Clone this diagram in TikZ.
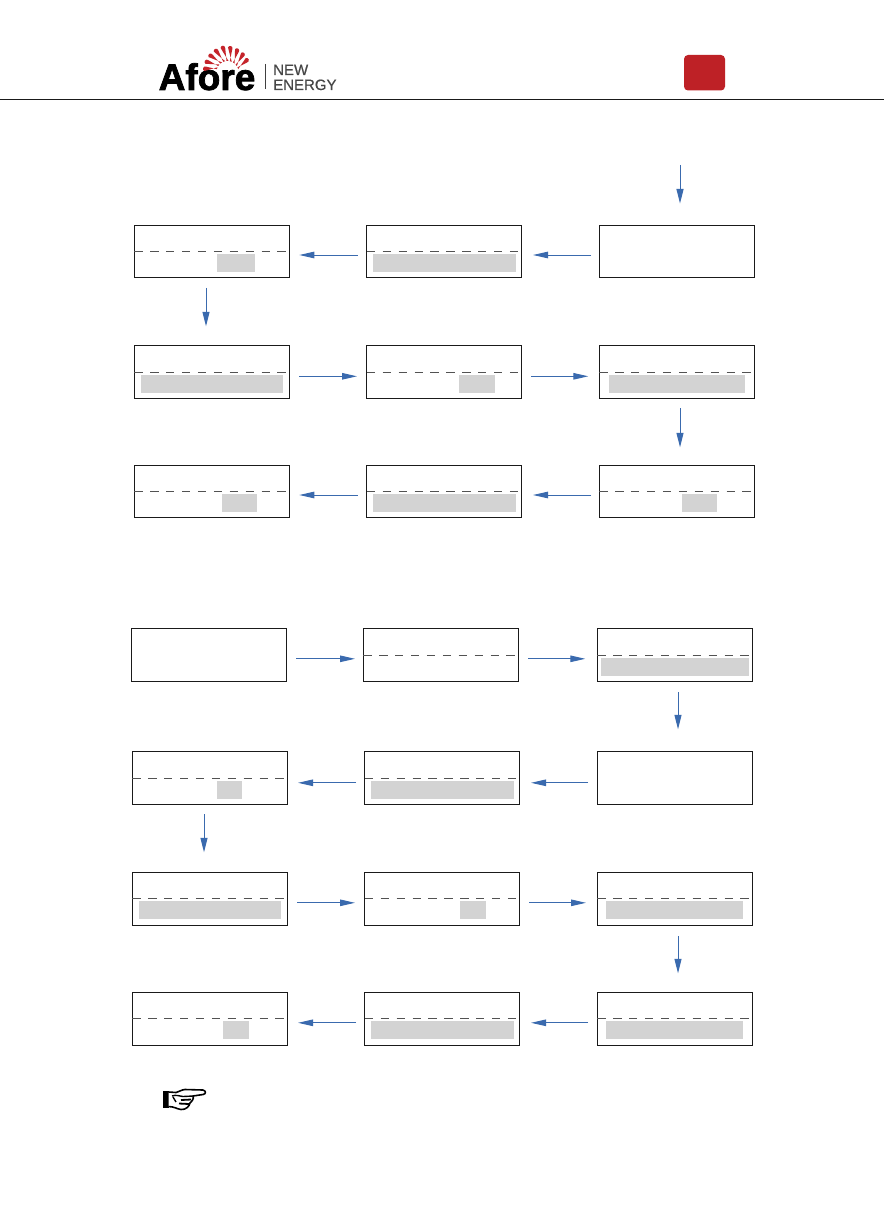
\documentclass[tikz,border=0pt]{standalone}
\usepackage{fontspec}
\setmainfont{Liberation Sans}
\newfontfamily\logofont{Liberation Sans}[BoldFeatures={FakeBold=2}]
\newfontfamily\subfont{Liberation Sans}[FakeBold=0.6]
\usetikzlibrary{arrows.meta}
\definecolor{arrowblue}{HTML}{3A6AAE}
\definecolor{hilite}{HTML}{D3D3D3}
\definecolor{logored}{HTML}{C5242B}
\definecolor{badgered}{HTML}{BE2126}
\definecolor{boxline}{HTML}{1A1A1A}
\tikzset{
  screen/.style={draw=boxline,line width=1pt,minimum height=#1,inner sep=0pt,outer sep=0pt},
  divider/.style={draw=black!68,line width=0.75pt,dash pattern=on 8.3pt off 7.6pt},
  hl/.style={fill=hilite,draw=none},
  flow/.style n args={2}{draw=arrowblue,line width=1pt,-{Triangle[length=15pt,width=6.5pt]},shorten <=#1,shorten >=#2},
  vflow/.style={draw=arrowblue,line width=1pt,-{Triangle[length=14.5pt,width=7pt]}},
}
\newcommand{\screenbox}[6]{% name, x0, x1, y0, y1, dashy
  \node[screen=#5pt-#4pt,minimum width=#3pt-#2pt,anchor=north west] (#1) at (#2,#4) {};
  \ifx\relax#6\relax\else\draw[divider] (#1.west |- 0,#6) -- (#1.east |- 0,#6);\fi
}
\begin{document}
\begin{tikzpicture}[x=1pt,y=-1pt]
\useasboundingbox (0,0) rectangle (884,1225);
\fill[white] (0,0) rectangle (884,1225);
% header
\draw[boxline,line width=0.9pt] (0,99.5) -- (884,99.5);
\fill[badgered,rounded corners=4pt] (684,55) rectangle (725,90.5);
\node[anchor=base west,inner sep=0pt,font=\fontsize{37}{37}\logofont\bfseries,text=black] (afore) at (158.5,90) {Afore};
\foreach \a/\r in {160/22,142.5/22.5,125/23,107.5/23.5,90/24,72.5/23.5,55/23,37.5/22.5,20/22}{
  \begin{scope}[shift={(227.5,72)},rotate=\a]
    \fill[logored] (11,-1) -- (\r,-2.3) arc[start angle=-90,end angle=90,radius=2.3pt] -- (11,1) -- cycle;
  \end{scope}
}
\draw[black!75,line width=0.8pt] (265.5,64) -- (265.5,89);
\node[anchor=base west,inner sep=0pt,font=\fontsize{15}{15}\subfont,text=black!72] (new) at (273,75) {NEW};
\node[anchor=base west,inner sep=0pt,font=\fontsize{15}{15}\subfont,text=black!72] (energy) at (273,90) {ENERGY};
% first group: highlights
\fill[hl] (217,254) rectangle (255,272);
\fill[hl] (373,254) rectangle (516,272);
\fill[hl] (141,375) rectangle (283,393);
\fill[hl] (459,375) rectangle (495,393);
\fill[hl] (609,375) rectangle (745,393);
\fill[hl] (222,494) rectangle (257,512);
\fill[hl] (373,494) rectangle (516,512);
\fill[hl] (682,494) rectangle (717,512);
% second group: highlights
\fill[hl] (601,658) rectangle (749,676);
\fill[hl] (217,781) rectangle (242,799);
\fill[hl] (371,781) rectangle (514,799);
\fill[hl] (139,901) rectangle (281,919);
\fill[hl] (460,901) rectangle (486,919);
\fill[hl] (606,901) rectangle (743,919);
\fill[hl] (223,1021) rectangle (249,1039);
\fill[hl] (371,1021) rectangle (514,1039);
\fill[hl] (606,1021) rectangle (743,1039);
% boxes
\screenbox{a1}{134.3}{289.3}{225.3}{277.3}{251.3}
\screenbox{a2}{366.8}{521.3}{225.3}{277.3}{251.3}
\screenbox{a3}{599.3}{754.3}{225.3}{277.3}{}
\screenbox{b1}{134.3}{289.3}{345.3}{398.3}{372}
\screenbox{b2}{366.8}{521.3}{345.3}{398.3}{372}
\screenbox{b3}{599.3}{754.3}{345.3}{398.3}{372}
\screenbox{c1}{134.3}{289.3}{465.3}{517.3}{491.3}
\screenbox{c2}{366.8}{521.3}{465.3}{517.3}{491.3}
\screenbox{c3}{599.3}{754.3}{465.3}{517.3}{491.3}
\screenbox{d1}{131.5}{286.5}{628.3}{681.3}{}
\screenbox{d2}{363.3}{518.3}{628.3}{681.3}{655}
\screenbox{d3}{597.3}{752.3}{628.3}{681.3}{655}
\screenbox{e1}{132.3}{287.3}{751.3}{804.3}{778}
\screenbox{e2}{364.8}{519.3}{751.3}{804.3}{778}
\screenbox{e3}{597.3}{752.3}{751.3}{804.3}{}
\screenbox{f1}{132.3}{287.3}{872.3}{925.3}{898.3}
\screenbox{f2}{364.8}{519.3}{872.3}{925.3}{898.3}
\screenbox{f3}{597.3}{752.3}{872.3}{925.3}{898.3}
\screenbox{g1}{132.3}{287.3}{992.3}{1045.3}{1018.3}
\screenbox{g2}{364.8}{519.3}{992.3}{1045.3}{1018.3}
\screenbox{g3}{597.3}{752.3}{992.3}{1045.3}{1018.3}
% connectors
\coordinate (start1) at (680,165);
\coordinate (end1) at (680,203.5);
\draw[vflow] (start1) -- (end1);
\draw[flow={8.3pt}{11.7pt}] ([yshift=-3.7pt]a3.west) -- ([yshift=-3.7pt]a2.east);
\draw[flow={9.3pt}{10pt}] ([yshift=-3.7pt]a2.west) -- ([yshift=-3.7pt]a1.east);
\draw[vflow,shorten <=10.5pt,shorten >=19pt] (a1.south -| 206,0) -- (b1.north -| 206,0);
\draw[flow={9.7pt}{9.8pt}] ([yshift=-4.5pt]b1.east) -- ([yshift=-4.5pt]b2.west);
\draw[flow={9.7pt}{11pt}] ([yshift=-4.5pt]b2.east) -- ([yshift=-4.5pt]b3.west);
\draw[vflow,shorten <=10pt,shorten >=18pt] (b3.south -| 680,0) -- (c3.north -| 680,0);
\draw[flow={8.3pt}{11.7pt}] ([yshift=-3.7pt]c3.west) -- ([yshift=-3.7pt]c2.east);
\draw[flow={9.3pt}{10pt}] ([yshift=-3.7pt]c2.west) -- ([yshift=-3.7pt]c1.east);
\draw[flow={9.5pt}{8.3pt}] ([yshift=-4pt]d1.east) -- ([yshift=-4pt]d2.west);
\draw[flow={9.7pt}{12pt}] ([yshift=-4pt]d2.east) -- ([yshift=-4pt]d3.west);
\draw[vflow,shorten <=10.7pt,shorten >=22pt] (d3.south -| 678,0) -- (e3.north -| 678,0);
\draw[flow={9.3pt}{11.7pt}] ([yshift=-5pt]e3.west) -- ([yshift=-5pt]e2.east);
\draw[flow={8.8pt}{10.7pt}] ([yshift=-5pt]e2.west) -- ([yshift=-5pt]e1.east);
\draw[vflow,shorten <=9.7pt,shorten >=20pt] (e1.south -| 204,0) -- (f1.north -| 204,0);
\draw[flow={9.7pt}{9.8pt}] ([yshift=-4pt]f1.east) -- ([yshift=-4pt]f2.west);
\draw[flow={9.7pt}{11.3pt}] ([yshift=-4pt]f2.east) -- ([yshift=-4pt]f3.west);
\draw[vflow,shorten <=10.7pt,shorten >=19pt] (f3.south -| 678,0) -- (g3.north -| 678,0);
\draw[flow={9.3pt}{11.7pt}] ([yshift=-4pt]g3.west) -- ([yshift=-4pt]g2.east);
\draw[flow={8.8pt}{10.7pt}] ([yshift=-4pt]g2.west) -- ([yshift=-4pt]g1.east);
% pointing hand
\fill[black] (162.7,1090.5) rectangle (168.5,1108);
\draw[black,line width=1.6pt,fill=white,line join=round]
  (168.5,1092) -- (176,1092.5) .. controls (179,1092) and (181,1089.8) .. (185,1089.5)
  -- (203,1090) .. controls (206.5,1091) and (206,1094) .. (203,1094.5)
  -- (193,1096) .. controls (194.5,1099) and (191,1102) .. (190,1103)
  .. controls (189.5,1106) and (186,1110) .. (181,1109.5)
  .. controls (177,1109) and (174,1106.5) .. (168.5,1106.5);
\draw[black,line width=1.4pt] (172,1096) .. controls (176,1094.5) and (179,1096) .. (183,1096.5) -- (193,1096);
\draw[black,line width=1.4pt] (173,1097) -- (176,1102);
\draw[black,line width=1.8pt] (181,1100) -- (191,1099.5);
\draw[black,line width=1.8pt] (179,1103.5) -- (189,1104);
\end{tikzpicture}
\end{document}
